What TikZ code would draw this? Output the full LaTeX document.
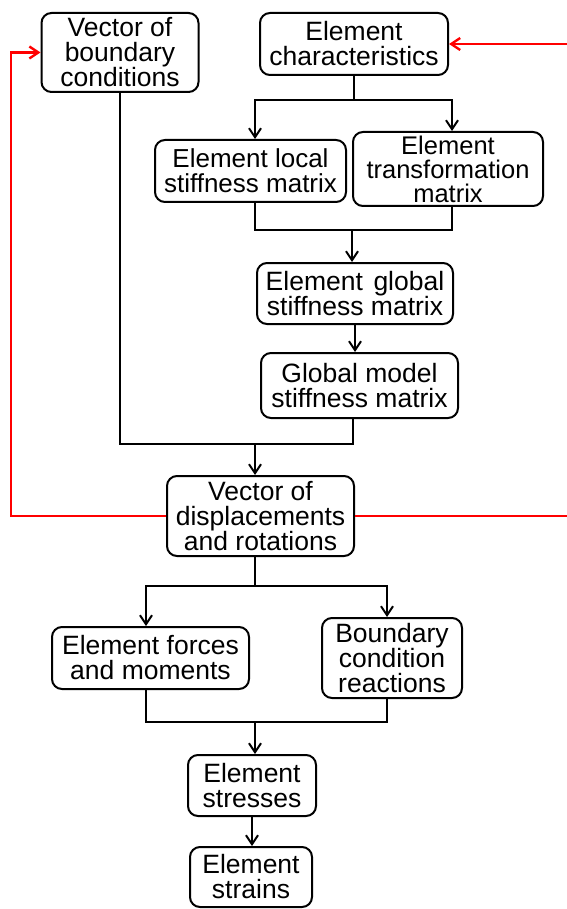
\documentclass[tikz,border=0pt]{standalone}
\usepackage{fontspec}
\setmainfont{Liberation Sans}
\usetikzlibrary{arrows.meta}
\begin{document}
\begin{tikzpicture}[x=1pt,y=-1pt,
  box/.style={draw, line width=2pt, rounded corners=10pt, inner sep=0pt,
    align=center, font=\fontsize{26.5}{25}\selectfont},
  tip/.style={-{Straight Barb[length=9pt,width=12pt,line width=2pt]}},
  line/.style={line width=2pt},
  arr/.style={line, tip},
  redline/.style={draw=red, line width=2.6pt},
  redarr/.style={redline, -{Straight Barb[length=9pt,width=12pt,line width=2.4pt]}}]
\useasboundingbox (0,0) rectangle (566,909);

% boxes
\node[box, minimum width=157pt, minimum height=79pt] (A) at (120,52.5) {Vector of\\boundary\\conditions};
\node[box, minimum width=188pt, minimum height=62pt] (B) at (354,44) {Element\\characteristics};
\node[box, minimum width=191pt, minimum height=62pt, font=\fontsize{26}{25}\selectfont] (C) at (250.5,171) {Element local\\stiffness matrix};
\node[box, minimum width=190pt, minimum height=74pt, font=\fontsize{25.5}{24}\selectfont] (D) at (448,169) {Element\\transformation\\matrix};
\node[box, minimum width=196pt, minimum height=61pt] (E) at (355,293.5) {Element\hspace{0.4em}global\\stiffness matrix};
\node[box, minimum width=197pt, minimum height=65pt] (F) at (359.5,385.5) {Global model\\stiffness matrix};
\node[box, minimum width=187pt, minimum height=80pt] (G) at (260.5,516) {Vector of\\displacements\\and rotations};
\node[box, minimum width=197pt, minimum height=62pt] (H) at (150.5,658) {Element forces\\and moments};
\node[box, minimum width=140pt, minimum height=80pt] (I) at (392,658) {Boundary\\condition\\reactions};
\node[box, minimum width=128pt, minimum height=61pt] (J) at (252,785.5) {Element\\stresses};
\node[box, minimum width=122pt, minimum height=60pt] (K) at (251,877) {Element\\strains};

% junction points of the bus lines
\coordinate (j1) at (354,100);
\coordinate (j2) at (352,230);
\coordinate (j3) at (353,444);
\coordinate (j3b) at (255,444);
\coordinate (j4) at (255,586);
\coordinate (j5) at (255,722);
\coordinate (r1) at (11,516);
\coordinate (r3) at (570,44);
\coordinate (r4) at (570,516);

% element level
\draw[line] (B.south) -- (j1);
\draw[arr] (j1) -| ([xshift=4.5pt]C.north);
\draw[arr] (j1) -| ([xshift=4pt]D.north);
\draw[line] ([xshift=4.5pt]C.south) |- (j2);
\draw[line] ([xshift=4pt]D.south) |- (j2);
\draw[arr] (j2) -- (j2 |- E.north);
\draw[arr] (E.south) -- (E.south |- F.north);

% assembly and solution
\draw[line] (F.south -| j3) -- (j3) -| (A.south);
\draw[arr] (j3b) -- (j3b |- G.north);

% post-processing
\draw[line] (G.south -| j4) -- (j4);
\draw[arr] (j4) -| ([xshift=-4.5pt]H.north);
\draw[arr] (j4) -| ([xshift=-5pt]I.north);
\draw[line] ([xshift=-4.5pt]H.south) |- (j5);
\draw[line] ([xshift=-5pt]I.south) |- (j5);
\draw[arr] (j5) -- (j5 |- J.north);
\draw[arr] (J.south) -- (J.south |- K.north);

% feedback loops
\draw[redarr] (G.west) -- (r1) |- (A.west);
\draw[redarr] (r3) -- (B.east);
\draw[redline] (G.east) -- (r4);
\end{tikzpicture}
\end{document}
